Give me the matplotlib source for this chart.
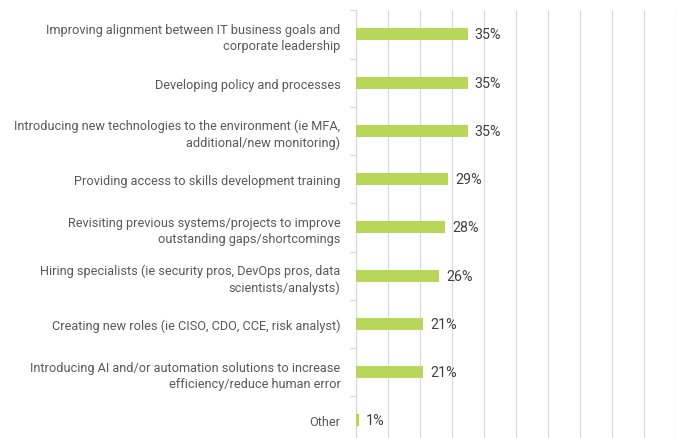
import matplotlib
matplotlib.use("Agg")
import matplotlib.pyplot as plt
import numpy as np

categories = [
    "Improving alignment between IT business goals and\ncorporate leadership",
    "Developing policy and processes",
    "Introducing new technologies to the environment (ie MFA,\nadditional/new monitoring)",
    "Providing access to skills development training",
    "Revisiting previous systems/projects to improve\noutstanding gaps/shortcomings",
    "Hiring specialists (ie security pros, DevOps pros, data\nscientists/analysts)",
    "Creating new roles (ie CISO, CDO, CCE, risk analyst)",
    "Introducing AI and/or automation solutions to increase\nefficiency/reduce human error",
    "Other",
]
values = [35, 35, 35, 29, 28, 26, 21, 21, 1]
value_labels = ["35%", "35%", "35%", "29%", "28%", "26%", "21%", "21%", "1%"]

plt.rcParams['font.family'] = ['Roboto', 'DejaVu Sans']

fig = plt.figure(figsize=(6.78, 4.39), dpi=100)
ax = fig.add_axes([355.7/678, 1 - 445.5/439, (675.5-355.7)/678, (445.5-11.3)/439])

n = len(categories)
y = np.arange(n)
ax.barh(y, values, height=0.25, color="#b8d75a", edgecolor="none", zorder=3)

for yi, v, lab in zip(y, values, value_labels):
    ax.text(v + 2.2, yi, lab, va="center", ha="left", fontsize=10.3, color="#404040")

ax.set_xlim(0, 100)
ax.set_ylim(n - 0.5, -0.5)
ax.set_xticks(np.arange(0, 101, 10))
ax.tick_params(axis='x', length=0, labelbottom=False)
ax.grid(axis='x', color="#d9d9d9", linewidth=0.9, zorder=0)

ax.set_yticks(y)
ax.set_yticklabels(categories, fontsize=9.2, color="#595959", linespacing=1.3)
ax.set_yticks(np.arange(-0.5, n, 1), minor=True)
ax.tick_params(axis='y', which='major', length=0, pad=11)
ax.tick_params(axis='y', which='minor', length=4, color="#d9d9d9", width=0.9)

for s in ["top", "right", "bottom"]:
    ax.spines[s].set_visible(False)
ax.spines["left"].set_color("#d9d9d9")
ax.spines["left"].set_linewidth(0.9)

fig.savefig("out.png", dpi=100)
